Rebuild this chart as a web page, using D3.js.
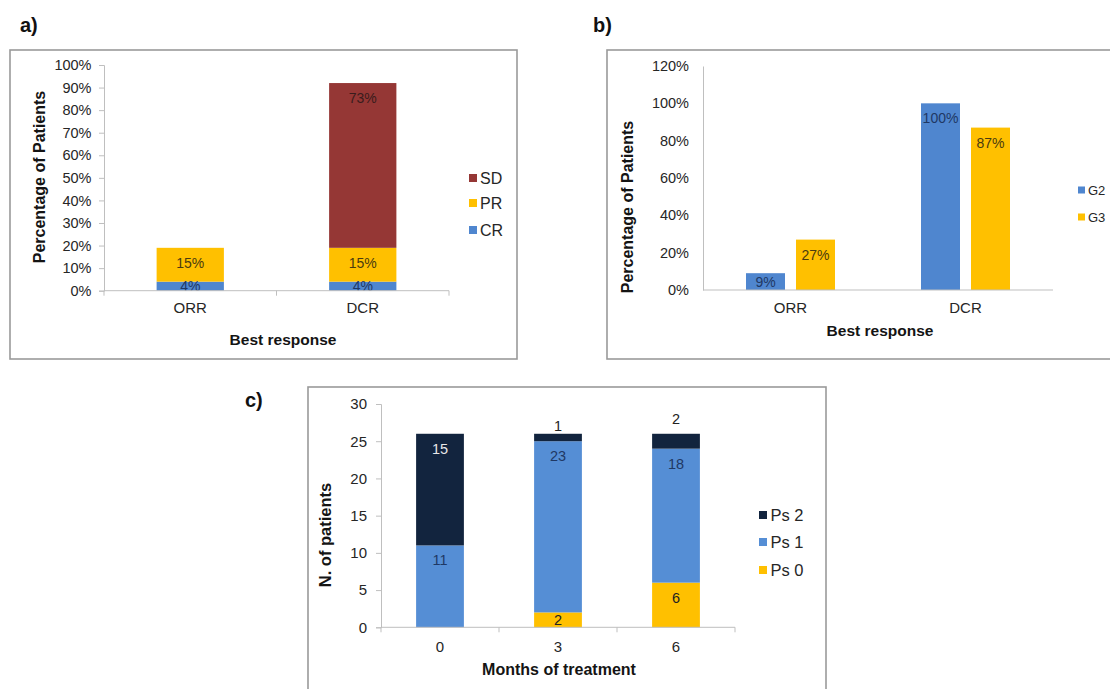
<!DOCTYPE html>
<html><head><meta charset="utf-8">
<script src="https://cdn.jsdelivr.net/npm/d3@7"></script>
<style>
html,body{margin:0;padding:0;background:#fff;}
svg{display:block;font-family:Arial,"Liberation Sans",sans-serif;}
</style></head>
<body>
<svg id="chart" width="1110" height="689"></svg>
<script>
// ---------- DATA ----------
// Panel a: stacked percentages
const catsA = ["ORR", "DCR"];
const seriesA = ["CR", "PR", "SD"];
const crA = [4, 4];
const prA = [15, 15];
const sdA = [0, 73];
const ticksA = [0,10,20,30,40,50,60,70,80,90,100];

// Panel b: grouped percentages
const catsB = ["ORR", "DCR"];
const seriesB = ["G2", "G3"];
const g2B = [9, 100];
const g3B = [27, 87];
const ticksB = [0,20,40,60,80,100,120];

// Panel c: stacked counts
const catsC = ["0", "3", "6"];
const seriesC = ["Ps 0", "Ps 1", "Ps 2"];
const ps0C = [0, 2, 6];
const ps1C = [11, 23, 18];
const ps2C = [15, 1, 2];
const ticksC = [0,5,10,15,20,25,30];

// ---------- STYLE ----------
const FONT = 'Arial,"Liberation Sans",sans-serif';
const AXIS = "#bfbfbf";
const FRAME = "#9a9a9a";
const TXT = "#262626";
const colA = {CR:"#4f86cf", PR:"#ffc000", SD:"#953735"};
const lblA = {CR:"#1f3864", PR:"#4a3b10", SD:"#3a1c1c"};
const colB = {G2:"#4f86cf", G3:"#ffc000"};
const lblB = {G2:"#1f3864", G3:"#4a3b10"};
const colC = {"Ps 0":"#ffc000", "Ps 1":"#558ed5", "Ps 2":"#12243e"};
const lblC = {"Ps 0":"#222222", "Ps 1":"#1f3864", "Ps 2":"#e8e8e8"};

const svg = d3.select("#chart");

function frame(x, y, w, h){
  svg.append("rect").attr("x",x).attr("y",y).attr("width",w).attr("height",h)
    .attr("fill","#fff").attr("stroke",FRAME).attr("stroke-width",1.6);
}
function panelLabel(t, x, y){
  svg.append("text").attr("x",x).attr("y",y).attr("dy","0.35em")
    .attr("font-size",20).attr("font-weight","bold").attr("fill","#111").text(t);
}
function yAxis(g, y, ticks, fmt, tickSize, pad, fs){
  const ax = d3.axisLeft(y).tickValues(ticks).tickFormat(fmt).tickSize(tickSize).tickPadding(pad);
  g.call(ax);
  g.select(".domain").attr("stroke",AXIS).attr("stroke-width",1);
  g.selectAll(".tick line").attr("stroke",AXIS);
  g.selectAll(".tick text").attr("font-size",fs).attr("fill",TXT).attr("font-family",FONT);
}
function xAxis(g, x, y0, tickLen, labOff, fs){
  const r = x.range();
  g.append("line").attr("x1",r[0]).attr("x2",r[1]).attr("y1",y0).attr("y2",y0)
    .attr("stroke",AXIS).attr("stroke-width",1);
  if (tickLen > 0){
    const n = x.domain().length;
    g.selectAll("line.tk").data(d3.range(n+1)).join("line").attr("class","tk")
      .attr("x1",i=>r[0]+i*x.step()).attr("x2",i=>r[0]+i*x.step())
      .attr("y1",y0).attr("y2",y0+tickLen).attr("stroke",AXIS);
  }
  g.selectAll("text.cat").data(x.domain()).join("text").attr("class","cat")
    .attr("x",d=>x(d)+x.bandwidth()/2).attr("y",y0+labOff).attr("dy","0.35em")
    .attr("text-anchor","middle").attr("font-size",fs).attr("fill",TXT).text(d=>d);
}
function axisTitles(xt, xx, xy, yt, yx, yy, fs, fsy){
  svg.append("text").attr("x",xx).attr("y",xy).attr("dy","0.35em").attr("text-anchor","middle")
    .attr("font-size",fs).attr("font-weight","bold").attr("fill","#141414").text(xt);
  svg.append("text").attr("transform",`translate(${yx},${yy}) rotate(-90)`).attr("dy","0.35em")
    .attr("text-anchor","middle").attr("font-size",fsy).attr("font-weight","bold").attr("fill","#141414").text(yt);
}
function legend(items, colors, x, ys, fs, sq, gap){
  items.forEach((s,i)=>{
    svg.append("rect").attr("x",x).attr("y",ys[i]-sq/2).attr("width",sq).attr("height",sq).attr("fill",colors[s]);
    svg.append("text").attr("x",x+sq+gap).attr("y",ys[i]).attr("dy","0.35em")
      .attr("font-size",fs).attr("fill",TXT).text(s);
  });
}
// label position: inside end, but not below segment centre; tiny top segments get label above
function labelY(top, bot, isTop){
  const h = bot - top;
  if (isTop && h < 16) return top - h;
  return Math.min(top + 15, (top + bot)/2);
}

// ================= PANEL A =================
frame(10, 50, 507, 309);
panelLabel("a)", 20, 25);
{
  const x = d3.scaleBand().domain(catsA).range([104, 449]).paddingInner(0.61).paddingOuter(0.305);
  const y = d3.scaleLinear().domain([0, 100]).range([290.7, 65]);
  const rows = catsA.map((c,i)=>({cat:c, CR:crA[i], PR:prA[i], SD:sdA[i]}));
  const stack = d3.stack().keys(seriesA)(rows);
  const g = svg.append("g");
  stack.forEach(layer=>{
    const key = layer.key;
    layer.forEach(d=>{
      const v = d[1]-d[0];
      if (v <= 0) return;
      g.append("rect").attr("x",x(d.data.cat)).attr("width",x.bandwidth())
        .attr("y",y(d[1])).attr("height",y(d[0])-y(d[1])).attr("fill",colA[key]);
    });
  });
  stack.forEach(layer=>{
    const key = layer.key;
    layer.forEach(d=>{
      const v = d[1]-d[0];
      if (v <= 0) return;
      g.append("text").attr("x",x(d.data.cat)+x.bandwidth()/2)
        .attr("y",labelY(y(d[1]),y(d[0]),false)).attr("dy","0.35em")
        .attr("text-anchor","middle").attr("font-size",14).attr("fill",lblA[key]).text(v+"%");
    });
  });
  yAxis(svg.append("g").attr("transform","translate(104,0)"), y, ticksA, d=>d+"%", 5, 7.5, 14.5);
  xAxis(svg.append("g"), x, 290.7, 5, 17.5, 15);
  axisTitles("Best response", 283, 340, "Percentage of Patients", 39, 177, 15.5, 16);
  legend(seriesA.slice().reverse(), colA, 469, [178, 203, 230], 16, 8, 3);
}

// ================= PANEL B =================
frame(607, 50, 520, 309);
panelLabel("b)", 593, 25);
{
  const x0 = d3.scaleBand().domain(catsB).range([703, 1053]);
  const y = d3.scaleLinear().domain([0, 120]).range([290, 66]);
  const vals = {G2:g2B, G3:g3B};
  const g = svg.append("g");
  catsB.forEach((c,i)=>{
    const cx = x0(c) + x0.bandwidth()/2;
    const x1 = d3.scaleBand().domain(seriesB).range([cx-44.5, cx+44.5]).paddingInner(0.22);
    seriesB.forEach(s=>{
      const v = vals[s][i];
      g.append("rect").attr("x",x1(s)).attr("width",x1.bandwidth())
        .attr("y",y(v)).attr("height",y(0)-y(v)).attr("fill",colB[s]);
    });
    seriesB.forEach(s=>{
      const v = vals[s][i];
      g.append("text").attr("x",x1(s)+x1.bandwidth()/2).attr("y",labelY(y(v),y(0),false)).attr("dy","0.35em")
        .attr("text-anchor","middle").attr("font-size",14).attr("fill",lblB[s]).text(v+"%");
    });
  });
  yAxis(svg.append("g").attr("transform","translate(703,0)"), y, ticksB, d=>d+"%", 0, 14, 14.5);
  xAxis(svg.append("g"), x0, 290, 0, 18, 15);
  axisTitles("Best response", 880, 331, "Percentage of Patients", 627, 207, 15.5, 16);
  legend(seriesB, colB, 1078, [190, 217], 13, 7, 3);
}

// ================= PANEL C =================
frame(308, 387, 518, 320);
panelLabel("c)", 245, 400);
{
  const x = d3.scaleBand().domain(catsC).range([381, 735]).paddingInner(0.595).paddingOuter(0.2975);
  const y = d3.scaleLinear().domain([0, 30]).range([627.3, 404]);
  const rows = catsC.map((c,i)=>({cat:c, "Ps 0":ps0C[i], "Ps 1":ps1C[i], "Ps 2":ps2C[i]}));
  const stack = d3.stack().keys(seriesC)(rows);
  const g = svg.append("g");
  stack.forEach(layer=>{
    layer.forEach(d=>{
      if (d[1]-d[0] <= 0) return;
      g.append("rect").attr("x",x(d.data.cat)).attr("width",x.bandwidth())
        .attr("y",y(d[1])).attr("height",y(d[0])-y(d[1])).attr("fill",colC[layer.key]);
    });
  });
  stack.forEach((layer,li)=>{
    layer.forEach(d=>{
      const v = d[1]-d[0];
      if (v <= 0) return;
      const isTop = li === stack.length-1;
      const top = y(d[1]), bot = y(d[0]);
      const outside = isTop && (bot-top) < 16;
      g.append("text").attr("x",x(d.data.cat)+x.bandwidth()/2)
        .attr("y",labelY(top,bot,isTop)).attr("dy","0.35em")
        .attr("text-anchor","middle").attr("font-size",14.5)
        .attr("fill", outside ? "#222" : lblC[layer.key]).text(v);
    });
  });
  yAxis(svg.append("g").attr("transform","translate(381,0)"), y, ticksC, d=>d, 5, 9, 15);
  xAxis(svg.append("g"), x, 627.3, 5, 19.5, 15);
  axisTitles("Months of treatment", 559, 669, "N. of patients", 325, 535, 16, 16.5);
  legend(seriesC.slice().reverse(), colC, 759, [515, 542, 570], 16.5, 8, 3.5);
}
</script>
</body></html>
